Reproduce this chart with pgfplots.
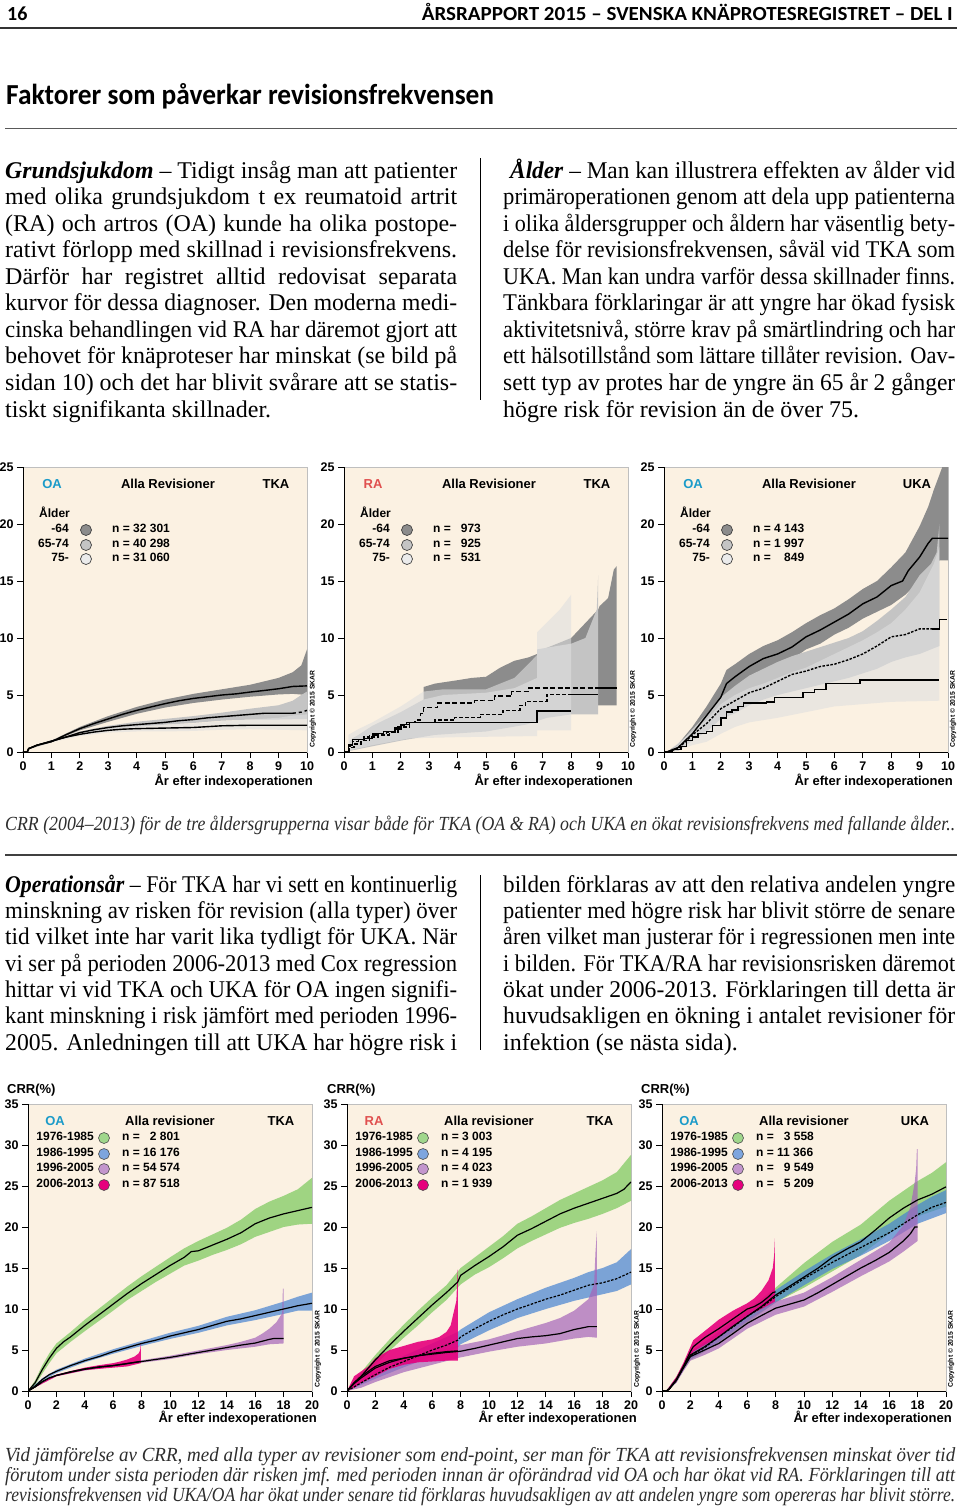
\documentclass[border=0pt]{standalone}
\usepackage{fontspec}
\setmainfont{Liberation Serif}
\newfontfamily\sans{Liberation Sans}
\newfontfamily\hdr{Carlito}
\usepackage{graphicx}
\usepackage{pgfplots}
\pgfplotsset{compat=1.18}
\definecolor{bg}{RGB}{251,241,226}
\definecolor{dgray}{RGB}{140,140,140}
\definecolor{mgray}{RGB}{196,196,196}
\definecolor{lgray}{RGB}{223,223,223}
\definecolor{oa}{RGB}{27,155,201}
\definecolor{ra}{RGB}{224,80,79}
\definecolor{cgreen}{RGB}{120,200,90}
\definecolor{cblue}{RGB}{70,130,210}
\definecolor{cpurple}{RGB}{165,100,185}
\definecolor{cpink}{RGB}{230,0,125}
\definecolor{lgreen}{RGB}{160,215,140}
\definecolor{lblue}{RGB}{125,165,222}
\definecolor{lpurple}{RGB}{195,150,205}
\definecolor{capc}{RGB}{45,45,45}
\newlength\tmpw
\newcommand\zJL[2]{\settowidth\tmpw{#2}\ifdim\tmpw>#1\relax\resizebox{#1}{\height}{#2}\else\makebox[#1][s]{#2}\fi}
\newcommand\zBL[4]{\node[anchor=base west,inner sep=0,font=\fontsize{24}{26}\selectfont] at (#1,#2) {\zJL{#3}{#4}};}
\newcommand\zBN[3]{\node[anchor=base west,inner sep=0,font=\fontsize{24}{26}\selectfont] at (#1,#2) {#3};}
\newcommand\zCL[2]{\node[anchor=base west,inner sep=0,text=capc,font=\fontsize{20}{20}\selectfont\itshape] at (5,#1) {\zJL{950pt}{#2}};}
\newcommand\zlf{\sans\bfseries\fontsize{13}{13}\selectfont}
\newcommand\zsf{\sans\bfseries\fontsize{12}{12}\selectfont}
\newcommand\AgeLeg[8]{%
 \node[font=\zlf,text=#4,anchor=base] at ({#1+29},{#2+21}) {#3};
 \node[font=\zlf,anchor=base] at ({#1+145},{#2+21}) {Alla Revisioner};
 \node[font=\zlf,anchor=base] at ({#1+253},{#2+21}) {#5};
 \node[font=\zsf,anchor=base west,inner sep=0] at ({#1+16},{#2+50}) {Ålder};
 \node[font=\zsf,anchor=mid east,inner sep=0] at ({#1+46},{#2+63}) {-64};
 \node[font=\zsf,anchor=mid east,inner sep=0] at ({#1+46},{#2+78}) {65-74};
 \node[font=\zsf,anchor=mid east,inner sep=0] at ({#1+46},{#2+92}) {75-};
 \draw[fill=dgray,draw=black!75,line width=0.7pt] ({#1+63},{#2+63}) circle (5.5);
 \draw[fill=mgray,draw=black!75,line width=0.7pt] ({#1+63},{#2+78}) circle (5.5);
 \draw[fill=black!8,draw=black!75,line width=0.7pt] ({#1+63},{#2+92}) circle (5.5);
 \node[font=\zsf,anchor=mid west,inner sep=0] at ({#1+89},{#2+63}) {n = #6};
 \node[font=\zsf,anchor=mid west,inner sep=0] at ({#1+89},{#2+78}) {n = #7};
 \node[font=\zsf,anchor=mid west,inner sep=0] at ({#1+89},{#2+92}) {n = #8};
}
\newcommand\PerLeg[9]{%
 \node[font=\zlf,text=#4,anchor=base] at ({#1+27},{#2+21.5}) {#3};
 \node[font=\zlf,anchor=base] at ({#1+142},{#2+21.5}) {Alla revisioner};
 \node[font=\zlf,anchor=base] at ({#1+253},{#2+21.5}) {#5};
 \node[font=\zsf,anchor=mid east,inner sep=0] at ({#1+66},{#2+34}) {1976-1985};
 \node[font=\zsf,anchor=mid east,inner sep=0] at ({#1+66},{#2+50}) {1986-1995};
 \node[font=\zsf,anchor=mid east,inner sep=0] at ({#1+66},{#2+65}) {1996-2005};
 \node[font=\zsf,anchor=mid east,inner sep=0] at ({#1+66},{#2+81}) {2006-2013};
 \draw[fill=lgreen,draw=black!70,line width=0.6pt] ({#1+76},{#2+34}) circle (5.5);
 \draw[fill=lblue,draw=black!70,line width=0.6pt] ({#1+76},{#2+50}) circle (5.5);
 \draw[fill=lpurple,draw=black!70,line width=0.6pt] ({#1+76},{#2+65}) circle (5.5);
 \draw[fill=cpink,draw=black!70,line width=0.6pt] ({#1+76},{#2+81}) circle (5.5);
 \node[font=\zsf,anchor=mid west,inner sep=0] at ({#1+94},{#2+34}) {n = #6};
 \node[font=\zsf,anchor=mid west,inner sep=0] at ({#1+94},{#2+50}) {n = #7};
 \node[font=\zsf,anchor=mid west,inner sep=0] at ({#1+94},{#2+65}) {n = #8};
 \node[font=\zsf,anchor=mid west,inner sep=0] at ({#1+94},{#2+81}) {n = #9};
}
\newcommand\zXL[2]{\node[font=\zlf,anchor=base east,inner sep=0] at (#1,#2) {År efter indexoperationen};}
\newcommand\zCR[2]{\node[font=\sans\bfseries\fontsize{6.8}{6.8}\selectfont,rotate=90,anchor=west,inner sep=0] at (#1,#2) {Copyright © 2015 SKAR};}
\pgfplotsset{
  base/.style={scale only axis, width=284pt,
    axis background/.style={fill=bg},
    axis line style={gray!50, line width=0.5pt},
    tick align=outside, xtick pos=left, ytick pos=left,
    major tick length=6pt, tick style={black, line width=0.9pt},
    ticklabel style={font=\sans\bfseries\fontsize{12.5}{13}\selectfont},
    /pgf/number format/assume math mode=true},
  agechart/.style={base, height=285pt, xmin=0,xmax=10,ymin=0,ymax=25,
    xtick={0,1,...,10}, ytick={0,5,...,25}},
  perchart/.style={base, height=287pt, xmin=0,xmax=20,ymin=0,ymax=35,
    xtick={0,2,...,20}, ytick={0,5,...,35}},
  cl/.style={black, line width=1.4pt},
  pl/.style={black, line width=1.2pt},
  lband/.style={draw=none,fill=lgray,fill opacity=0.6},
}
\begin{document}
\begin{tikzpicture}
\path[use as bounding box] (0,0) rectangle (960pt,-1507pt);
\fill[white] (0,0) rectangle (960pt,-1507pt);
\begin{scope}[x=1pt,y=-1pt]
% header
\node[anchor=base west,inner sep=0,font=\hdr\bfseries\fontsize{20}{20}\selectfont] at (7,20) {16};
\node[anchor=base east,inner sep=0,font=\hdr\bfseries\fontsize{20}{20}\selectfont] at (953,20) {\resizebox{531pt}{\height}{ÅRSRAPPORT 2015 – SVENSKA KNÄPROTESREGISTRET – DEL I}};
\draw[black!80,line width=1.6pt] (0,28) -- (957,28);
\node[anchor=base west,inner sep=0,font=\hdr\bfseries\fontsize{29}{29}\selectfont] at (6,104) {\resizebox{488pt}{\height}{Faktorer som påverkar revisionsfrekvensen}};
\draw[black!65,line width=1pt] (5,128) -- (957,128);
% block 1 left
\zBL{5}{178}{452pt}{\textbf{\textit{Grundsjukdom}} – Tidigt insåg man att patienter}
\zBL{5}{204.6}{452pt}{med olika grundsjukdom t ex reumatoid artrit}
\zBL{5}{231.1}{452pt}{(RA) och artros (OA) kunde ha olika postope-}
\zBL{5}{257.7}{452pt}{rativt förlopp med skillnad i revisionsfrekvens.}
\zBL{5}{284.2}{452pt}{Därför har registret alltid redovisat separata}
\zBL{5}{310.8}{452pt}{kurvor för dessa diagnoser. Den moderna medi-}
\zBL{5}{337.4}{452pt}{cinska behandlingen vid RA har däremot gjort att}
\zBL{5}{363.9}{452pt}{behovet för knäproteser har minskat (se bild på}
\zBL{5}{390.5}{452pt}{sidan 10) och det har blivit svårare att se statis-}
\zBN{5}{417}{tiskt signifikanta skillnader.}
\draw[black,line width=0.8pt] (480,158) -- (480,400);
% block 1 right
\zBL{510}{178}{445pt}{\textbf{\textit{Ålder}} – Man kan illustrera effekten av ålder vid}
\zBL{503}{204.6}{452pt}{primäroperationen genom att dela upp patienterna}
\zBL{503}{231.1}{452pt}{i olika åldersgrupper och åldern har väsentlig bety-}
\zBL{503}{257.7}{452pt}{delse för revisionsfrekvensen, såväl vid TKA som}
\zBL{503}{284.2}{452pt}{UKA. Man kan undra varför dessa skillnader finns.}
\zBL{503}{310.8}{452pt}{Tänkbara förklaringar är att yngre har ökad fysisk}
\zBL{503}{337.4}{452pt}{aktivitetsnivå, större krav på smärtlindring och har}
\zBL{503}{363.9}{452pt}{ett hälsotillstånd som lättare tillåter revision. Oav-}
\zBL{503}{390.5}{452pt}{sett typ av protes har de yngre än 65 år 2 gånger}
\zBN{503}{417}{högre risk för revision än de över 75.}
% caption 1
\zCL{830}{CRR (2004–2013) för de tre åldersgrupperna visar både för TKA (OA \& RA) och UKA en ökat revisionsfrekvens med fallande ålder..}
\draw[black!75,line width=1.2pt] (5,855) -- (957,855);
% block 2
\zBL{5}{892}{452pt}{\textbf{\textit{Operationsår}} – För TKA har vi sett en kontinuerlig}
\zBL{5}{918.3}{452pt}{minskning av risken för revision (alla typer) över}
\zBL{5}{944.7}{452pt}{tid vilket inte har varit lika tydligt för UKA. När}
\zBL{5}{971}{452pt}{vi ser på perioden 2006-2013 med Cox regression}
\zBL{5}{997.3}{452pt}{hittar vi vid TKA och UKA för OA ingen signifi-}
\zBL{5}{1023.7}{452pt}{kant minskning i risk jämfört med perioden 1996-}
\zBL{5}{1050}{452pt}{2005. Anledningen till att UKA har högre risk i}
\draw[black,line width=0.8pt] (480,875) -- (480,1050);
\zBL{503}{892}{452pt}{bilden förklaras av att den relativa andelen yngre}
\zBL{503}{918.3}{452pt}{patienter med högre risk har blivit större de senare}
\zBL{503}{944.7}{452pt}{åren vilket man justerar för i regressionen men inte}
\zBL{503}{971}{452pt}{i bilden. För TKA/RA har revisionsrisken däremot}
\zBL{503}{997.3}{452pt}{ökat under 2006-2013. Förklaringen till detta är}
\zBL{503}{1023.7}{452pt}{huvudsakligen en ökning i antalet revisioner för}
\zBN{503}{1050}{infektion (se nästa sida).}
% caption 2
\zCL{1461}{Vid jämförelse av CRR, med alla typer av revisioner som end-point, ser man för TKA att revisionsfrekvensen minskat över tid}
\zCL{1481}{förutom under sista perioden där risken jmf. med perioden innan är oförändrad vid OA och har ökat vid RA. Förklaringen till att}
\zCL{1501}{revisionsfrekvensen vid UKA/OA har ökat under senare tid förklaras huvudsakligen av att andelen yngre som opereras har blivit större.}
\end{scope}

% ===== Chart A1: OA TKA age =====
\begin{axis}[agechart, name=a1, at={(23pt,-752pt)}, anchor=south west]
\addplot[draw=none,fill=dgray] coordinates {(0.2,0.35)(1,1.0)(1.5,1.6)(2,2.2)(3,3.15)(4,3.95)(5,4.6)(6,5.1)(7,5.5)(8,5.9)(8.5,6.2)(9,6.5)(9.5,7.0)(9.8,7.6)(9.9,8.3)(10,9.0)(10,5.0)(9.5,5.1)(9,5.05)(8,4.85)(7,4.6)(6,4.3)(5,3.9)(4,3.35)(3,2.65)(2,1.9)(1.5,1.4)(1,0.85)(0.2,0.25)};
\addplot[draw=none,fill=mgray] coordinates {(0.2,0.35)(1,1.0)(2,1.8)(3,2.3)(4,2.65)(5,2.9)(6,3.15)(7,3.45)(8,3.8)(9,4.1)(9.5,4.5)(9.8,5.0)(10,5.3)(10,2.9)(9,2.85)(8,2.85)(7,2.75)(6,2.55)(5,2.4)(4,2.2)(3,1.95)(2,1.55)(1,0.9)(0.2,0.25)};
\addplot[lband] coordinates {(0.2,0.35)(1,1.05)(2,1.7)(3,2.1)(4,2.3)(5,2.4)(6,2.5)(7,2.7)(8,2.85)(9,3.0)(9.5,3.2)(10,3.3)(10,1.9)(8,2.0)(7,1.95)(6,1.85)(5,1.8)(4,1.8)(3,1.7)(2,1.4)(1,0.85)(0.2,0.25)};
\addplot[cl] coordinates {(0,0)(0.15,0)(0.2,0.3)(0.5,0.6)(1,0.9)(1.5,1.5)(2,2.05)(2.5,2.5)(3,2.9)(3.5,3.3)(4,3.65)(4.5,3.95)(5,4.24)(5.5,4.5)(6,4.7)(6.5,4.85)(7,5.0)(7.5,5.1)(8,5.26)(8.5,5.4)(9,5.55)(9.5,5.75)(10,5.8)};
\addplot[cl] coordinates {(0,0)(0.15,0)(0.2,0.3)(0.5,0.6)(1,0.95)(1.5,1.3)(2,1.7)(2.5,1.95)(3,2.15)(3.5,2.3)(4,2.4)(4.5,2.5)(5,2.6)(5.5,2.75)(6,2.85)(6.5,3.0)(7,3.1)(7.5,3.2)(8,3.3)(8.5,3.4)(9.5,3.4)};
\addplot[cl,dashed] coordinates {(9.5,3.4)(9.8,3.5)(10,3.65)};
\addplot[cl] coordinates {(0,0)(0.15,0)(0.2,0.3)(0.5,0.6)(1,0.95)(1.5,1.3)(2,1.55)(2.5,1.75)(3,1.9)(3.5,2.0)(4,2.05)(5,2.1)(6,2.15)(7,2.3)(8,2.35)(10,2.35)};
\end{axis}
\draw[black,line width=0.9pt] (a1.north west) -- (a1.south west) -- (a1.south east);

% ===== Chart A2: RA TKA age =====
\begin{axis}[agechart, name=a2, at={(344pt,-752pt)}, anchor=south west]
\addplot[draw=none,fill=dgray] coordinates {(0.3,1.2)(1,2.0)(2,3.0)(2.8,3.8)(2.8,5.7)(3.2,6.0)(4,6.3)(4.5,6.5)(5,6.6)(5.5,7.4)(6,8.0)(6.5,8.3)(6.8,8.6)(7,9.0)(8,10.0)(8.95,12.5)(9.0,12.8)(9.3,13.5)(9.5,16.0)(9.6,16.3)(9.6,4.1)(8.95,4.1)(6.5,4.0)(5,3.4)(3.3,2.9)(2.8,2.4)(2,1.5)(1,0.9)(0.3,0.3)};
\addplot[draw=none,fill=mgray] coordinates {(0.2,1.0)(1,2.3)(2,3.5)(2.8,4.6)(3.5,5.0)(5,5.2)(6,5.6)(6.8,6.5)(6.8,9.0)(7.5,9.3)(8,9.5)(8.5,10.0)(8.9,12.5)(8.95,15.5)(8.95,3.3)(8,3.3)(7.15,3.0)(6.4,2.4)(5,1.8)(3.2,1.5)(2,1.0)(1,0.5)(0.2,0.1)};
\addplot[lband] coordinates {(0.15,1.5)(0.5,2.0)(1,2.6)(2,4.0)(2.8,5.3)(3.5,5.5)(5,5.5)(6,6.5)(6.8,8.5)(6.8,10.5)(7.2,11.5)(7.6,12.5)(8,13.8)(8,1.9)(6.8,1.9)(6.8,1.4)(4,1.3)(2.3,1.2)(1,0.6)(0.3,0.2)(0.15,0)};
\addplot[cl,const plot,dash pattern=on 5pt off 2.5pt] coordinates {(0,0)(0.15,0.5)(0.3,0.9)(0.5,1.1)(0.7,1.3)(0.9,1.5)(1.2,1.6)(1.5,1.75)(1.8,2.0)(2.0,2.3)(2.2,2.6)(2.5,2.8)(2.7,3.4)(2.8,3.9)(3.3,4.3)(4.6,4.5)(5.3,4.9)(5.9,5.3)(6.5,5.6)(8.9,5.6)};
\addplot[cl] coordinates {(8.9,5.6)(9.6,5.6)};
\addplot[cl,const plot,dash pattern=on 4pt off 2pt] coordinates {(0,0)(0.2,0.4)(0.35,0.7)(0.6,1.0)(0.9,1.3)(1.2,1.5)(1.6,1.7)(1.9,2.2)(2.3,2.6)(3.2,2.8)(3.9,3.05)(4.8,3.3)(5.6,3.65)(6.2,4.1)(6.4,4.45)(7.15,5.05)(8.0,5.05)};
\addplot[cl] coordinates {(8.0,5.05)(8.95,5.05)};
\addplot[cl,const plot] coordinates {(0,0)(0.15,0.6)(0.3,1.1)(0.7,1.2)(1.0,1.6)(1.4,1.8)(1.8,2.1)(2.0,2.4)(2.3,2.6)(6.8,3.6)(8.0,3.6)};
\end{axis}
\draw[black,line width=0.9pt] (a2.north west) -- (a2.south west) -- (a2.south east);

% ===== Chart A3: OA UKA age =====
\begin{axis}[agechart, name=a3, at={(664pt,-752pt)}, anchor=south west]
\addplot[draw=none,fill=dgray] coordinates {(0.1,0)(0.5,0.7)(1,2.2)(1.5,4.0)(2,6.0)(2.2,7.2)(2.5,7.7)(3,8.6)(3.5,9.3)(4,9.8)(4.5,10.5)(5,11.3)(5.5,12.0)(6,12.6)(6.5,13.4)(7,14.3)(7.5,15.0)(8,16.2)(8.5,17.5)(9,19.8)(9.3,21.5)(9.5,23)(9.8,25)(10,25)(10,16.8)(9.7,16.8)(9.5,16.5)(9,15.0)(8.5,13.8)(8,12.9)(7.5,12.3)(7,11.7)(6.5,10.9)(6,10.3)(5.5,9.5)(5,9.0)(4.5,8.1)(4,7.5)(3.5,7.1)(3,6.5)(2.5,5.6)(2.2,5.0)(2,4.0)(1.5,2.5)(1,1.2)(0.5,0.2)};
\addplot[draw=none,fill=mgray] coordinates {(0.1,0)(0.5,0.6)(1,2.0)(1.5,3.3)(2,4.8)(2.5,5.8)(3,6.7)(3.5,7.3)(4,7.9)(4.5,8.4)(5,8.8)(5.5,9.2)(6,9.6)(6.5,10.0)(7,10.6)(7.5,11.5)(8,12.5)(8.5,13.6)(9,15.5)(9.4,16.5)(9.6,17.5)(9.7,20.0)(9.7,9.3)(9,8.6)(8.5,8.3)(8,7.9)(7.5,7.3)(7,6.9)(6.5,6.5)(6,6.2)(5.5,5.9)(5,5.6)(4.5,5.3)(4,5.0)(3.5,4.6)(3,4.1)(2.5,3.4)(2,2.9)(1.5,1.8)(1,1.0)(0.5,0.1)};
\addplot[lband] coordinates {(0.3,0.4)(1,1.8)(1.5,2.8)(2,4.2)(2.5,5.0)(3,5.6)(3.5,6.0)(4,6.5)(4.5,7.0)(5,7.4)(5.5,8.0)(6,8.6)(6.5,9.2)(7,9.8)(7.5,10.5)(8,11.3)(8.5,12.5)(9,14.0)(9.3,15.5)(9.5,16.5)(9.7,18.0)(9.7,4.5)(8,4.4)(7,4.2)(6,4.0)(5,3.5)(4,3.0)(3,2.6)(2.5,2.2)(2,1.6)(1.5,0.9)(1,0.6)(0.3,0)};
\addplot[cl] coordinates {(0,0)(0.1,0)(0.5,0.4)(1,1.6)(1.5,3.2)(2,4.8)(2.2,6.0)(2.5,6.6)(3,7.5)(3.5,8.2)(4,8.6)(4.5,9.2)(5,10.1)(5.5,10.7)(6,11.4)(6.5,12.1)(7,13.0)(7.5,13.6)(8,14.6)(8.4,15.0)(8.6,15.9)(9,17.1)(9.3,18.3)(9.45,18.75)(10,18.75)};
\addplot[cl,dash pattern=on 2.5pt off 1.5pt] coordinates {(0,0)(0.1,0)(0.5,0.3)(1,1.5)(1.5,2.5)(2,3.8)(2.5,4.5)(3,5.2)(3.5,5.6)(4,6.2)(4.5,6.8)(5,7.1)(5.5,7.5)(6,7.7)(6.5,8.1)(7,8.6)(7.5,9.3)(8,10.1)(8.5,10.3)(9,10.8)(9.4,10.8)(9.45,10.8)};
\addplot[cl,const plot] coordinates {(9.45,10.8)(9.7,11.6)(9.95,11.6)};
\addplot[cl,const plot] coordinates {(0,0)(0.3,0.2)(0.6,0.5)(0.8,1.0)(1.0,1.3)(1.2,1.6)(1.5,1.8)(1.7,2.3)(2.0,3.0)(2.2,3.5)(2.4,3.7)(2.6,4.0)(2.8,4.3)(3.6,4.4)(3.9,4.8)(4.9,5.2)(5.3,5.5)(5.7,6.0)(6.9,6.3)(9.7,6.3)};
\end{axis}
\draw[black,line width=0.9pt] (a3.north west) -- (a3.south west) -- (a3.south east);

% ===== Chart B1: OA TKA period =====
\begin{axis}[perchart, name=b1, at={(28pt,-1391pt)}, anchor=south west]
\addplot[draw=none,fill=cgreen,fill opacity=0.7] coordinates {(0,0)(0.5,1.3)(1,3.1)(1.5,4.6)(2,5.8)(3,7.2)(4,8.7)(5,10.05)(6,11.4)(7,12.75)(8,14.0)(9,15.15)(10,16.3)(11,17.4)(12,18.3)(13,19.1)(14,19.9)(15,20.9)(16,22.2)(17,23.1)(18,23.8)(19,24.6)(20,26.0)(20,20.4)(19,20.3)(18,20.0)(17,19.4)(16,18.8)(15,17.9)(14,17.2)(13,16.6)(12,15.9)(11,15.3)(10,14.3)(9,13.3)(8,12.2)(7,11.1)(6,9.8)(5,8.55)(4,7.3)(3,6.0)(2,4.6)(1.5,3.4)(1,2.1)(0.5,0.7)(0,0)};
\addplot[draw=none,fill=cblue,fill opacity=0.7] coordinates {(0,0)(1,1.55)(2,2.6)(4,3.95)(6,5.1)(8,6.1)(10,7.1)(12,7.95)(14,9.05)(16,9.85)(18,10.9)(19,11.5)(20,12.0)(20,9.8)(19,9.8)(18,9.4)(16,8.65)(14,8.0)(12,7.1)(10,6.35)(8,5.5)(6,4.55)(4,3.5)(2,2.2)(1,1.25)(0,0)};
\addplot[draw=none,fill=cpurple,fill opacity=0.7] coordinates {(0,0)(2,2.0)(4,2.8)(6,3.25)(8,3.75)(10,4.3)(12,4.95)(14,5.6)(15,6.0)(16,6.5)(16.5,7.0)(17,7.6)(17.5,8.4)(17.9,9.5)(17.95,12.5)(18,12.5)(18,5.8)(17,5.7)(16,5.4)(14,5.0)(12,4.5)(10,3.9)(8,3.45)(6,2.95)(4,2.5)(2,1.8)(0,0)};
\addplot[draw=none,fill=cpink,fill opacity=0.9] coordinates {(0,0)(2,2.0)(4,2.85)(5,3.15)(6,3.4)(6.5,3.6)(7,3.85)(7.5,4.2)(7.8,4.6)(7.9,5.0)(7.95,5.9)(7.95,3.4)(7,3.0)(6,2.85)(4,2.55)(2,1.8)(0,0)};
\addplot[pl] coordinates {(0,0)(0.5,1.0)(1,2.6)(1.5,4.0)(2,5.2)(2.5,6.0)(3,6.6)(4,8.0)(5,9.3)(6,10.6)(7,11.9)(8,13.1)(9,14.2)(10,15.3)(11,16.3)(11.5,17.0)(12,17.1)(13,17.8)(14,18.5)(15,19.3)(16,20.4)(17,21.1)(18,21.6)(19,22.0)(20,22.4)};
\addplot[pl] coordinates {(0,0)(0.5,0.6)(1,1.4)(1.5,2.0)(2,2.4)(3,3.1)(4,3.7)(5,4.2)(6,4.8)(7,5.3)(8,5.8)(9,6.2)(10,6.7)(11,7.1)(12,7.5)(13,8.0)(14,8.5)(15,8.8)(16,9.2)(17,9.6)(18,10.0)(19,10.4)(20,10.7)};
\addplot[pl] coordinates {(0,0)(0.5,0.5)(1,1.1)(1.5,1.6)(2,1.9)(3,2.3)(4,2.65)(5,2.9)(6,3.1)(7,3.35)(8,3.6)(9,3.85)(10,4.1)(11,4.4)(12,4.7)(13,5.0)(14,5.3)(15,5.6)(16,5.85)(17,6.3)(17.3,6.4)(18,6.4)};
\addplot[pl] coordinates {(0,0)(0.5,0.5)(1,1.15)(1.5,1.6)(2,1.9)(3,2.35)(4,2.7)(5,2.95)(6,3.1)(7,3.35)(7.5,3.5)(7.9,3.6)};
\end{axis}
\draw[black,line width=0.9pt] (b1.north west) -- (b1.south west) -- (b1.south east);

% ===== Chart B2: RA TKA period =====
\begin{axis}[perchart, name=b2, at={(347pt,-1391pt)}, anchor=south west]
\addplot[draw=none,fill=cgreen,fill opacity=0.7] coordinates {(0,0)(1,2.3)(2,4.4)(3,6.3)(4,8.1)(5,9.8)(6,11.4)(7,12.9)(8,15.0)(9,16.3)(10,17.6)(11,18.9)(12,20.4)(13,21.3)(14,22.3)(15,23.3)(16,24.1)(17,24.9)(18,25.7)(19,26.7)(20,28.8)(20,23.2)(19,22.3)(18,21.6)(17,21.0)(16,20.5)(15,19.9)(14,19.1)(13,18.3)(12,17.4)(11,16.2)(10,15.1)(9,14.2)(8,13.0)(7,11.1)(6,9.6)(5,8.0)(4,6.5)(3,4.9)(2,3.2)(1,1.4)(0,0)};
\addplot[draw=none,fill=cblue,fill opacity=0.7] coordinates {(0,0)(2,2.5)(4,4.3)(6,5.8)(7.8,7.2)(8,7.5)(10,9.6)(12,11.2)(14,12.6)(16,13.8)(17,14.5)(18,15.0)(19,15.7)(20,17.3)(20,13.0)(19,12.2)(18,11.8)(16,11.0)(14,10.0)(12,8.9)(10,7.4)(8,5.7)(7.8,5.3)(6,4.2)(4,2.9)(2,1.5)(0,0)};
\addplot[draw=none,fill=cpurple,fill opacity=0.7] coordinates {(0,0)(1,1.6)(2,2.6)(4,3.9)(6,4.8)(8,5.6)(10,6.3)(12,7.3)(14,8.3)(15,8.9)(16,9.8)(17,11.2)(17.4,13)(17.5,17)(17.6,19.5)(17.6,6.5)(17,6.6)(16,6.4)(14,5.8)(12,5.4)(10,4.8)(8,4.1)(6,3.2)(4,2.3)(2,1.1)(1,0.4)(0,0)};
\addplot[draw=none,fill=cpink,fill opacity=0.9] coordinates {(0,0)(0.5,1.8)(1,2.4)(1.5,3.0)(2,4.0)(3,5.0)(4,5.5)(5,6.0)(6,6.3)(6.5,6.6)(7,7.2)(7.3,8.0)(7.5,9.5)(7.7,11.0)(7.75,13.0)(7.8,14.8)(7.8,3.7)(7,3.7)(6,3.6)(5,3.5)(4,3.2)(3,2.7)(2,1.8)(1,1.0)(0.5,0.4)(0,0)};
\addplot[pl] coordinates {(0,0)(0.5,1.0)(1,1.8)(1.5,2.8)(2,3.8)(3,5.6)(4,7.3)(5,8.9)(6,10.5)(7,12.0)(7.8,13.3)(8,14.1)(9,15.3)(10,16.4)(11,17.6)(12,19.0)(13,19.8)(14,20.7)(15,21.6)(16,22.3)(17,22.9)(18,23.5)(19,24.1)(19.5,24.6)(20,25.5)};
\addplot[pl,dash pattern=on 2.5pt off 1.5pt] coordinates {(0,0)(0.5,0.5)(1,1.0)(2,2.0)(3,2.9)(4,3.6)(5,4.3)(6,5.0)(7,5.6)(7.8,6.2)(8,6.6)(9,7.6)(10,8.5)(11,9.3)(12,10.0)(13,10.6)(14,11.2)(15,11.7)(16,12.3)(17,12.9)(18,13.2)(19,13.7)(20,14.5)};
\addplot[pl] coordinates {(0,0)(0.5,0.9)(1,1.6)(2,2.8)(3,3.5)(4,4.0)(5,4.3)(6,4.5)(7,4.7)(8,4.85)(9,5.2)(10,5.6)(11,6.0)(12,6.4)(13,6.6)(14,6.75)(15,7.0)(16,7.5)(17,7.85)(17.6,7.85)};
\addplot[pl] coordinates {(0,0)(0.5,1.0)(1,1.8)(2,3.0)(3,3.7)(4,4.0)(5,4.3)(6,4.6)(7,4.8)(7.8,4.9)};
\end{axis}
\draw[black,line width=0.9pt] (b2.north west) -- (b2.south west) -- (b2.south east);

% ===== Chart B3: OA UKA period =====
\begin{axis}[perchart, name=b3, at={(662pt,-1391pt)}, anchor=south west]
\addplot[draw=none,fill=cgreen,fill opacity=0.7] coordinates {(0.3,0)(1,1.7)(1.5,3.3)(2,4.9)(3,6.0)(4,7.3)(6,9.9)(8,12.6)(10,15.6)(12,18.2)(14,20.3)(16,23.2)(18,25.6)(19,26.6)(20,27.9)(20,22.5)(18,21.3)(16,19.2)(14,16.6)(12,14.6)(10,12.6)(8,10.8)(6,8.3)(4,5.9)(3,4.8)(2,3.8)(1.5,2.5)(1,1.0)(0.3,0)};
\addplot[draw=none,fill=cblue,fill opacity=0.7] coordinates {(0.3,0)(1,1.6)(1.5,3.2)(2,4.8)(3,5.9)(4,7.2)(6,9.7)(8,12.3)(10,14.6)(12,16.7)(14,18.5)(16,20.4)(18,22.7)(19,23.7)(20,24.5)(20,21.7)(18,20.4)(16,18.3)(14,16.5)(12,14.9)(10,12.9)(8,10.8)(6,8.5)(4,6.0)(3,4.9)(2,3.9)(1.5,2.5)(1,1.0)(0.3,0)};
\addplot[draw=none,fill=cpurple,fill opacity=0.7] coordinates {(0.3,0)(1,1.6)(1.5,3.1)(2,4.6)(3,5.6)(4,6.5)(5,7.7)(6,8.9)(8,10.9)(10,12.0)(12,13.9)(14,16.0)(16,18.1)(17,20.2)(17.5,22.5)(17.8,25.5)(17.9,27.2)(17.95,29.5)(18,29.5)(18,18.3)(17,17.0)(16,15.8)(14,14.0)(12,12.1)(10,10.3)(8,9.3)(6,7.6)(5,6.4)(4,5.2)(3,4.4)(2,3.7)(1.5,2.4)(1,1.0)(0.3,0)};
\addplot[draw=none,fill=cpink,fill opacity=0.9] coordinates {(0.3,0)(1,1.7)(1.5,3.4)(2,5.4)(2.2,6.2)(3,7.3)(4,8.7)(5,9.8)(6,10.7)(6.5,11.3)(7,12.2)(7.5,13.5)(7.8,15.0)(7.9,16.6)(7.95,18.6)(7.95,10.9)(7,10.0)(6,9.1)(5,7.9)(4,6.6)(3,5.6)(2.2,4.8)(2,4.3)(1.5,2.7)(1,1.1)(0.3,0)};
\addplot[pl] coordinates {(0,0)(0.3,0)(0.5,0.2)(1,1.3)(1.5,2.9)(2,4.4)(3,5.4)(4,6.6)(5,7.9)(6,9.1)(7,10.3)(8,11.7)(9,12.8)(10,13.9)(11,15.0)(12,16.3)(13,17.3)(14,18.2)(15,19.6)(16,21.1)(17,22.3)(18,23.3)(19,24.0)(20,24.9)};
\addplot[pl,dash pattern=on 2.5pt off 1.5pt] coordinates {(0,0)(0.3,0)(0.5,0.2)(1,1.3)(1.5,2.8)(2,4.3)(3,5.3)(4,6.6)(5,7.8)(6,9.1)(7,10.2)(8,11.5)(9,12.6)(10,13.7)(11,14.7)(12,15.7)(13,16.6)(14,17.5)(15,18.4)(16,19.3)(17,20.4)(18,21.5)(19,22.4)(20,23.0)};
\addplot[pl] coordinates {(0,0)(0.3,0)(0.5,0.2)(1,1.3)(1.5,2.8)(2,4.2)(3,5.0)(4,5.8)(5,7.0)(6,8.25)(7,9.2)(8,10.1)(9,10.6)(10,11.1)(11,12.0)(12,13.0)(13,14.0)(14,15.0)(15,15.9)(16,16.9)(17,18.3)(17.5,19.2)(17.8,20.0)(18,20.0)};
\addplot[pl] coordinates {(0,0)(0.3,0)(0.5,0.3)(1,1.4)(1.5,3.0)(2,4.8)(2.2,5.4)(3,6.5)(4,7.6)(5,8.8)(6,10.0)(6.5,10.3)(7,10.8)(7.5,11.5)(7.8,12.0)(8,12.1)};
\end{axis}
\draw[black,line width=0.9pt] (b3.north west) -- (b3.south west) -- (b3.south east);

\begin{scope}[x=1pt,y=-1pt]
\AgeLeg{23}{467}{OA}{oa}{TKA}{32 301}{40 298}{31 060}
\AgeLeg{344}{467}{RA}{ra}{TKA}{\ \ 973}{\ \ 925}{\ \ 531}
\AgeLeg{664}{467}{OA}{oa}{UKA}{4 143}{1 997}{\phantom{4 }849}
\PerLeg{28}{1104}{OA}{oa}{TKA}{\phantom{1}2 801}{16 176}{54 574}{87 518}
\PerLeg{347}{1104}{RA}{ra}{TKA}{3 003}{4 195}{4 023}{1 939}
\PerLeg{662}{1104}{OA}{oa}{UKA}{\phantom{1}3 558}{11 366}{\phantom{1}9 549}{\phantom{1}5 209}
\zXL{313}{785}\zXL{633}{785}\zXL{953}{785}
\zXL{317}{1422}\zXL{637}{1422}\zXL{952}{1422}
\zCR{313}{748}\zCR{633}{748}\zCR{953}{748}
\zCR{318}{1388}\zCR{637}{1388}\zCR{951}{1388}
\node[font=\zlf,anchor=base west,inner sep=0] at (7,1093) {CRR(\%)};
\node[font=\zlf,anchor=base west,inner sep=0] at (327,1093) {CRR(\%)};
\node[font=\zlf,anchor=base west,inner sep=0] at (641,1093) {CRR(\%)};
\end{scope}
\end{tikzpicture}
\end{document}
